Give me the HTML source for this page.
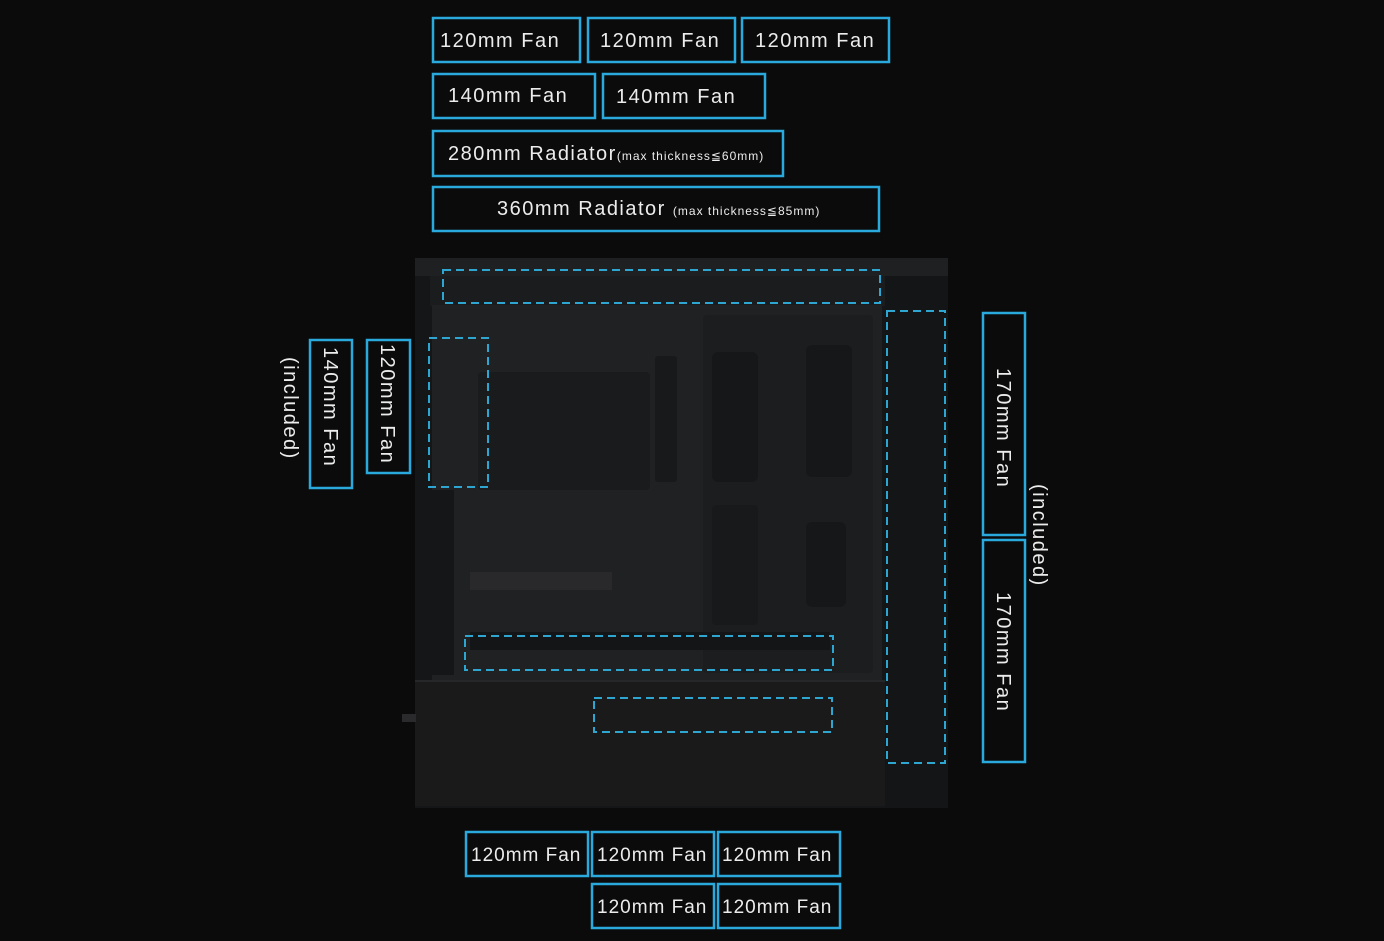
<!DOCTYPE html>
<html><head><meta charset="utf-8"><style>
html,body{margin:0;padding:0;background:#0b0b0c;}
svg{display:block}
text{font-family:"Liberation Sans",sans-serif;fill:#ececec;}
</style></head><body>
<svg width="1384" height="941" viewBox="0 0 1384 941" xmlns="http://www.w3.org/2000/svg">
<rect width="1384" height="941" fill="#0b0b0c"/>
<!-- case -->
<rect x="415" y="258" width="533" height="550" fill="#151617"/>
<rect x="415" y="258" width="533" height="18" fill="#1f2022"/>
<rect x="430" y="276" width="455" height="30" fill="#1b1c1e"/>
<rect x="432" y="305" width="450" height="375" fill="#202123"/>
<rect x="478" y="372" width="172" height="118" rx="4" fill="#1a1b1d"/>
<rect x="703" y="315" width="170" height="358" rx="4" fill="#1c1d1f"/>
<rect x="712" y="352" width="46" height="130" rx="6" fill="#161719"/>
<rect x="806" y="345" width="46" height="132" rx="6" fill="#161719"/>
<rect x="806" y="522" width="40" height="85" rx="6" fill="#161719"/>
<rect x="712" y="505" width="46" height="120" rx="4" fill="#18191b"/>
<rect x="655" y="356" width="22" height="126" rx="3" fill="#18191b"/>
<rect x="470" y="572" width="142" height="18" fill="#29292b"/>
<rect x="470" y="632" width="360" height="18" fill="#141516"/>
<rect x="432" y="490" width="22" height="185" fill="#151617"/>
<rect x="885" y="276" width="63" height="532" fill="#141516"/>
<rect x="415" y="680" width="470" height="126" fill="#1a1a1b"/>
<rect x="415" y="680" width="470" height="2" fill="#262729"/>
<rect x="402" y="714" width="14" height="8" fill="#2a2a2c"/>
<!-- dashed areas -->
<g fill="none" stroke="#2ea6d2" stroke-width="2" stroke-dasharray="8,5">
<rect x="443" y="270" width="437" height="33"/>
<rect x="429" y="338" width="59" height="149"/>
<rect x="887" y="311" width="58" height="452"/>
<rect x="465" y="636" width="368" height="34"/>
<rect x="594" y="698" width="238" height="34"/>
</g>
<!-- solid label boxes -->
<g fill="#0b0b0c" stroke="#2aa9dc" stroke-width="2.5">
<rect x="433" y="18" width="147" height="44"/>
<rect x="588" y="18" width="147" height="44"/>
<rect x="742" y="18" width="147" height="44"/>
<rect x="433" y="74" width="162" height="44"/>
<rect x="603" y="74" width="162" height="44"/>
<rect x="433" y="131" width="350" height="45"/>
<rect x="433" y="187" width="446" height="44"/>
<rect x="310" y="340" width="42" height="148"/>
<rect x="367" y="340" width="43" height="133"/>
<rect x="983" y="313" width="42" height="222"/>
<rect x="983" y="540" width="42" height="222"/>
<rect x="466" y="832" width="122" height="44"/>
<rect x="592" y="832" width="122" height="44"/>
<rect x="718" y="832" width="122" height="44"/>
<rect x="592" y="884" width="122" height="44"/>
<rect x="718" y="884" width="122" height="44"/>
</g>
<g font-size="20" letter-spacing="1.5">
<text x="440" y="47">120mm Fan</text>
<text x="600" y="47">120mm Fan</text>
<text x="755" y="47">120mm Fan</text>
<text x="448" y="102">140mm Fan</text>
<text x="616" y="103">140mm Fan</text>
<text x="448" y="160">280mm Radiator<tspan font-size="12" letter-spacing="1">(max thickness≦60mm)</tspan></text>
<text x="497" y="215">360mm Radiator <tspan font-size="12" letter-spacing="1">(max thickness≦85mm)</tspan></text>
<text x="471" y="861" font-size="19" letter-spacing="1">120mm Fan</text>
<text x="597" y="861" font-size="19" letter-spacing="1">120mm Fan</text>
<text x="722" y="861" font-size="19" letter-spacing="1">120mm Fan</text>
<text x="597" y="913" font-size="19" letter-spacing="1">120mm Fan</text>
<text x="722" y="913" font-size="19" letter-spacing="1">120mm Fan</text>
<text transform="translate(324,347) rotate(90)">140mm Fan</text>
<text transform="translate(381,344) rotate(90)">120mm Fan</text>
<text transform="translate(284,357) rotate(90)">(included)</text>
<text transform="translate(997,368) rotate(90)">170mm Fan</text>
<text transform="translate(997,592) rotate(90)">170mm Fan</text>
<text transform="translate(1033,484) rotate(90)">(included)</text>
</g>
</svg>
</body></html>
